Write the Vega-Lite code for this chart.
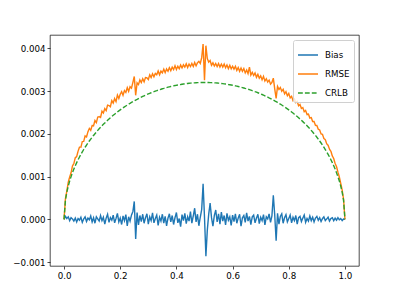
{
"$schema": "https://vega.github.io/schema/vega-lite/v6.json",
"width": 309, "height": 231,
"autosize": {"type": "none"},
"padding": {"left": 50, "top": 35, "right": 40, "bottom": 33},
"background": "white",
"config": {
  "view": {"stroke": "#000", "strokeWidth": 0.7},
  "font": "DejaVu Sans",
  "axis": {"domain": false, "grid": false, "tickColor": "#000", "tickSize": 3, "tickWidth": 0.7, "labelColor": "#000", "labelFontSize": 8.7, "labelFont": "DejaVu Sans", "labelPadding": 2},
  "legend": {"orient": "top-right", "offset": 5, "symbolType": "stroke", "symbolSize": 400, "symbolStrokeWidth": 1.4, "labelFontSize": 8.7, "labelFont": "DejaVu Sans", "labelColor": "#000", "padding": 4, "rowPadding": 3, "strokeColor": "#d0d0d0", "fillColor": "rgba(255,255,255,0.8)", "cornerRadius": 2, "labelOffset": 6}
},
"data": {"values": [
{"x":0,"Bias":0,"RMSE":0,"CRLB":0},
{"x":0.005,"Bias":0.00007,"RMSE":0.000484,"CRLB":0.000451},
{"x":0.01,"Bias":0.00002,"RMSE":0.000667,"CRLB":0.000637},
{"x":0.015,"Bias":0.00006,"RMSE":0.000868,"CRLB":0.000778},
{"x":0.02,"Bias":-0.00003,"RMSE":0.000991,"CRLB":0.000896},
{"x":0.025,"Bias":0.00004,"RMSE":0.001089,"CRLB":0.000999},
{"x":0.03,"Bias":0.00001,"RMSE":0.001248,"CRLB":0.001092},
{"x":0.035,"Bias":-0.00004,"RMSE":0.001307,"CRLB":0.001176},
{"x":0.04,"Bias":0.00003,"RMSE":0.001441,"CRLB":0.001254},
{"x":0.045,"Bias":-0.00006,"RMSE":0.001468,"CRLB":0.001327},
{"x":0.05,"Bias":0.00002,"RMSE":0.001596,"CRLB":0.001395},
{"x":0.055,"Bias":-0.00002,"RMSE":0.001689,"CRLB":0.001459},
{"x":0.06,"Bias":0.00005,"RMSE":0.001688,"CRLB":0.00152},
{"x":0.065,"Bias":-0.00007,"RMSE":0.001818,"CRLB":0.001578},
{"x":0.07,"Bias":0.00001,"RMSE":0.001825,"CRLB":0.001633},
{"x":0.075,"Bias":0.00006,"RMSE":0.00195,"CRLB":0.001686},
{"x":0.08,"Bias":-0.00005,"RMSE":0.001927,"CRLB":0.001736},
{"x":0.085,"Bias":0.00003,"RMSE":0.002047,"CRLB":0.001785},
{"x":0.09,"Bias":-0.00001,"RMSE":0.002125,"CRLB":0.001832},
{"x":0.095,"Bias":0.00008,"RMSE":0.002081,"CRLB":0.001877},
{"x":0.1,"Bias":-0.00006,"RMSE":0.002195,"CRLB":0.00192},
{"x":0.105,"Bias":0.00004,"RMSE":0.002187,"CRLB":0.001962},
{"x":0.11,"Bias":-0.00009,"RMSE":0.002312,"CRLB":0.002002},
{"x":0.115,"Bias":0.00006,"RMSE":0.002262,"CRLB":0.002042},
{"x":0.12,"Bias":0.00001,"RMSE":0.00239,"CRLB":0.00208},
{"x":0.125,"Bias":-0.00004,"RMSE":0.002402,"CRLB":0.002117},
{"x":0.13,"Bias":0.00009,"RMSE":0.002382,"CRLB":0.002152},
{"x":0.135,"Bias":-0.00003,"RMSE":0.002531,"CRLB":0.002187},
{"x":0.14,"Bias":0.00005,"RMSE":0.002485,"CRLB":0.002221},
{"x":0.145,"Bias":-0.00011,"RMSE":0.002591,"CRLB":0.002253},
{"x":0.15,"Bias":0.00003,"RMSE":0.002542,"CRLB":0.002285},
{"x":0.155,"Bias":0.00012,"RMSE":0.002672,"CRLB":0.002316},
{"x":0.16,"Bias":-0.00007,"RMSE":0.002661,"CRLB":0.002346},
{"x":0.165,"Bias":0.00004,"RMSE":0.002635,"CRLB":0.002376},
{"x":0.17,"Bias":-0.00002,"RMSE":0.002777,"CRLB":0.002404},
{"x":0.175,"Bias":0.0001,"RMSE":0.002718,"CRLB":0.002432},
{"x":0.18,"Bias":-0.00008,"RMSE":0.002824,"CRLB":0.002459},
{"x":0.185,"Bias":0.00002,"RMSE":0.002753,"CRLB":0.002485},
{"x":0.19,"Bias":0.00014,"RMSE":0.002907,"CRLB":0.002511},
{"x":0.195,"Bias":-0.00006,"RMSE":0.002826,"CRLB":0.002536},
{"x":0.2,"Bias":0.00003,"RMSE":0.002923,"CRLB":0.00256},
{"x":0.205,"Bias":-0.00012,"RMSE":0.002985,"CRLB":0.002584},
{"x":0.21,"Bias":0.00008,"RMSE":0.002901,"CRLB":0.002607},
{"x":0.215,"Bias":-0.00003,"RMSE":0.003011,"CRLB":0.002629},
{"x":0.22,"Bias":0.00011,"RMSE":0.002966,"CRLB":0.002651},
{"x":0.225,"Bias":-0.00015,"RMSE":0.00308,"CRLB":0.002673},
{"x":0.23,"Bias":0.00006,"RMSE":0.002993,"CRLB":0.002693},
{"x":0.235,"Bias":-0.00004,"RMSE":0.003102,"CRLB":0.002714},
{"x":0.24,"Bias":0.0001,"RMSE":0.003068,"CRLB":0.002733},
{"x":0.245,"Bias":0.00018,"RMSE":0.0032,"CRLB":0.002753},
{"x":0.25,"Bias":0.00042,"RMSE":0.00334,"CRLB":0.002771},
{"x":0.255,"Bias":-0.00046,"RMSE":0.0029,"CRLB":0.00279},
{"x":0.26,"Bias":0.00016,"RMSE":0.003192,"CRLB":0.002807},
{"x":0.265,"Bias":-0.00013,"RMSE":0.003152,"CRLB":0.002825},
{"x":0.27,"Bias":0.00009,"RMSE":0.00326,"CRLB":0.002841},
{"x":0.275,"Bias":-0.00005,"RMSE":0.0032,"CRLB":0.002858},
{"x":0.28,"Bias":0.00012,"RMSE":0.003288,"CRLB":0.002874},
{"x":0.285,"Bias":-0.00009,"RMSE":0.003215,"CRLB":0.002889},
{"x":0.29,"Bias":0.00004,"RMSE":0.003317,"CRLB":0.002904},
{"x":0.295,"Bias":0.00013,"RMSE":0.003308,"CRLB":0.002919},
{"x":0.3,"Bias":-0.00011,"RMSE":0.003269,"CRLB":0.002933},
{"x":0.305,"Bias":0.00006,"RMSE":0.00338,"CRLB":0.002947},
{"x":0.31,"Bias":-0.00003,"RMSE":0.003315,"CRLB":0.00296},
{"x":0.315,"Bias":0.00015,"RMSE":0.003404,"CRLB":0.002973},
{"x":0.32,"Bias":-0.00008,"RMSE":0.003333,"CRLB":0.002985},
{"x":0.325,"Bias":0.00002,"RMSE":0.003413,"CRLB":0.002998},
{"x":0.33,"Bias":0.0001,"RMSE":0.00338,"CRLB":0.003009},
{"x":0.335,"Bias":-0.00014,"RMSE":0.003469,"CRLB":0.003021},
{"x":0.34,"Bias":0.00005,"RMSE":0.003381,"CRLB":0.003032},
{"x":0.345,"Bias":-0.00004,"RMSE":0.003467,"CRLB":0.003042},
{"x":0.35,"Bias":0.00012,"RMSE":0.003425,"CRLB":0.003053},
{"x":0.355,"Bias":-0.00009,"RMSE":0.00351,"CRLB":0.003062},
{"x":0.36,"Bias":0.00007,"RMSE":0.003431,"CRLB":0.003072},
{"x":0.365,"Bias":-0.00015,"RMSE":0.003517,"CRLB":0.003081},
{"x":0.37,"Bias":0.00003,"RMSE":0.003462,"CRLB":0.00309},
{"x":0.375,"Bias":0.00013,"RMSE":0.003546,"CRLB":0.003098},
{"x":0.38,"Bias":-0.00006,"RMSE":0.003475,"CRLB":0.003106},
{"x":0.385,"Bias":0.00009,"RMSE":0.003559,"CRLB":0.003114},
{"x":0.39,"Bias":-0.00012,"RMSE":0.003503,"CRLB":0.003122},
{"x":0.395,"Bias":0.00004,"RMSE":0.003591,"CRLB":0.003129},
{"x":0.4,"Bias":0.00016,"RMSE":0.003503,"CRLB":0.003135},
{"x":0.405,"Bias":-0.00008,"RMSE":0.00358,"CRLB":0.003142},
{"x":0.41,"Bias":0.00002,"RMSE":0.003522,"CRLB":0.003148},
{"x":0.415,"Bias":-0.00017,"RMSE":0.003608,"CRLB":0.003153},
{"x":0.42,"Bias":0.00011,"RMSE":0.00354,"CRLB":0.003159},
{"x":0.425,"Bias":-0.00003,"RMSE":0.003615,"CRLB":0.003164},
{"x":0.43,"Bias":0.00014,"RMSE":0.00356,"CRLB":0.003168},
{"x":0.435,"Bias":-0.0001,"RMSE":0.003635,"CRLB":0.003173},
{"x":0.44,"Bias":0.00006,"RMSE":0.00355,"CRLB":0.003177},
{"x":0.445,"Bias":-0.00004,"RMSE":0.00363,"CRLB":0.003181},
{"x":0.45,"Bias":0.00018,"RMSE":0.003573,"CRLB":0.003184},
{"x":0.455,"Bias":-0.00009,"RMSE":0.003646,"CRLB":0.003187},
{"x":0.46,"Bias":0.00008,"RMSE":0.003575,"CRLB":0.00319},
{"x":0.465,"Bias":0.00026,"RMSE":0.003667,"CRLB":0.003192},
{"x":0.47,"Bias":-0.00006,"RMSE":0.003589,"CRLB":0.003194},
{"x":0.475,"Bias":0.00012,"RMSE":0.003661,"CRLB":0.003196},
{"x":0.48,"Bias":-0.00015,"RMSE":0.003693,"CRLB":0.003197},
{"x":0.485,"Bias":0.00005,"RMSE":0.003645,"CRLB":0.003199},
{"x":0.49,"Bias":0.00023,"RMSE":0.00378,"CRLB":0.003199},
{"x":0.495,"Bias":0.00083,"RMSE":0.0041,"CRLB":0.0032},
{"x":0.5,"Bias":0.00005,"RMSE":0.00325,"CRLB":0.0032},
{"x":0.505,"Bias":-0.00086,"RMSE":0.00406,"CRLB":0.0032},
{"x":0.51,"Bias":-0.00025,"RMSE":0.00376,"CRLB":0.003199},
{"x":0.515,"Bias":0.00012,"RMSE":0.003675,"CRLB":0.003199},
{"x":0.52,"Bias":0.00038,"RMSE":0.003713,"CRLB":0.003197},
{"x":0.525,"Bias":0.00004,"RMSE":0.003601,"CRLB":0.003196},
{"x":0.53,"Bias":-0.00016,"RMSE":0.003659,"CRLB":0.003194},
{"x":0.535,"Bias":0.00009,"RMSE":0.003587,"CRLB":0.003192},
{"x":0.54,"Bias":0.00022,"RMSE":0.003645,"CRLB":0.00319},
{"x":0.545,"Bias":-0.00006,"RMSE":0.003571,"CRLB":0.003187},
{"x":0.55,"Bias":0.00013,"RMSE":0.003643,"CRLB":0.003184},
{"x":0.555,"Bias":-0.00011,"RMSE":0.00356,"CRLB":0.003181},
{"x":0.56,"Bias":0.00017,"RMSE":0.00363,"CRLB":0.003177},
{"x":0.565,"Bias":-0.00004,"RMSE":0.00356,"CRLB":0.003173},
{"x":0.57,"Bias":0.00009,"RMSE":0.00363,"CRLB":0.003168},
{"x":0.575,"Bias":-0.00013,"RMSE":0.003545,"CRLB":0.003164},
{"x":0.58,"Bias":0.00014,"RMSE":0.00361,"CRLB":0.003159},
{"x":0.585,"Bias":-0.00002,"RMSE":0.003523,"CRLB":0.003153},
{"x":0.59,"Bias":0.00006,"RMSE":0.003602,"CRLB":0.003148},
{"x":0.595,"Bias":-0.00014,"RMSE":0.00352,"CRLB":0.003142},
{"x":0.6,"Bias":0.0001,"RMSE":0.003578,"CRLB":0.003135},
{"x":0.605,"Bias":-0.00005,"RMSE":0.003511,"CRLB":0.003129},
{"x":0.61,"Bias":0.00013,"RMSE":0.003578,"CRLB":0.003122},
{"x":0.615,"Bias":-0.00009,"RMSE":0.003484,"CRLB":0.003114},
{"x":0.62,"Bias":0.00003,"RMSE":0.00355,"CRLB":0.003106},
{"x":0.625,"Bias":0.00012,"RMSE":0.003461,"CRLB":0.003098},
{"x":0.63,"Bias":-0.00016,"RMSE":0.003537,"CRLB":0.00309},
{"x":0.635,"Bias":0.00004,"RMSE":0.003462,"CRLB":0.003081},
{"x":0.64,"Bias":0.00009,"RMSE":0.003526,"CRLB":0.003072},
{"x":0.645,"Bias":-0.00007,"RMSE":0.003425,"CRLB":0.003062},
{"x":0.65,"Bias":0.00015,"RMSE":0.00349,"CRLB":0.003053},
{"x":0.655,"Bias":-0.00004,"RMSE":0.003407,"CRLB":0.003042},
{"x":0.66,"Bias":0.00007,"RMSE":0.00356,"CRLB":0.003032},
{"x":0.665,"Bias":-0.00012,"RMSE":0.003374,"CRLB":0.003021},
{"x":0.67,"Bias":0.00006,"RMSE":0.003435,"CRLB":0.003009},
{"x":0.675,"Bias":0.0001,"RMSE":0.003363,"CRLB":0.002998},
{"x":0.68,"Bias":-0.00008,"RMSE":0.003423,"CRLB":0.002985},
{"x":0.685,"Bias":0.00003,"RMSE":0.003319,"CRLB":0.002973},
{"x":0.69,"Bias":0.00012,"RMSE":0.00339,"CRLB":0.00296},
{"x":0.695,"Bias":-0.0001,"RMSE":0.0033,"CRLB":0.002947},
{"x":0.7,"Bias":0.00005,"RMSE":0.003354,"CRLB":0.002933},
{"x":0.705,"Bias":-0.00003,"RMSE":0.003263,"CRLB":0.002919},
{"x":0.71,"Bias":0.00011,"RMSE":0.003342,"CRLB":0.002904},
{"x":0.715,"Bias":-0.00013,"RMSE":0.003235,"CRLB":0.002889},
{"x":0.72,"Bias":0.00006,"RMSE":0.003288,"CRLB":0.002874},
{"x":0.725,"Bias":0.00001,"RMSE":0.00321,"CRLB":0.002858},
{"x":0.73,"Bias":0.00013,"RMSE":0.003255,"CRLB":0.002841},
{"x":0.735,"Bias":-0.00007,"RMSE":0.003162,"CRLB":0.002825},
{"x":0.74,"Bias":0.00008,"RMSE":0.003202,"CRLB":0.002807},
{"x":0.745,"Bias":0.00056,"RMSE":0.0033,"CRLB":0.00279},
{"x":0.75,"Bias":0.0001,"RMSE":0.00305,"CRLB":0.002771},
{"x":0.755,"Bias":-0.0005,"RMSE":0.00283,"CRLB":0.002753},
{"x":0.76,"Bias":0.00014,"RMSE":0.003108,"CRLB":0.002733},
{"x":0.765,"Bias":-0.00011,"RMSE":0.003037,"CRLB":0.002714},
{"x":0.77,"Bias":0.00007,"RMSE":0.003083,"CRLB":0.002693},
{"x":0.775,"Bias":0.00013,"RMSE":0.002995,"CRLB":0.002673},
{"x":0.78,"Bias":-0.00009,"RMSE":0.003041,"CRLB":0.002651},
{"x":0.785,"Bias":0.00004,"RMSE":0.002936,"CRLB":0.002629},
{"x":0.79,"Bias":0.00011,"RMSE":0.002986,"CRLB":0.002607},
{"x":0.795,"Bias":-0.00006,"RMSE":0.00289,"CRLB":0.002584},
{"x":0.8,"Bias":0.00002,"RMSE":0.002943,"CRLB":0.00256},
{"x":0.805,"Bias":0.0001,"RMSE":0.002841,"CRLB":0.002536},
{"x":0.81,"Bias":-0.00008,"RMSE":0.002877,"CRLB":0.002511},
{"x":0.815,"Bias":0.00005,"RMSE":0.002778,"CRLB":0.002485},
{"x":0.82,"Bias":-0.00003,"RMSE":0.002814,"CRLB":0.002459},
{"x":0.825,"Bias":0.00009,"RMSE":0.002728,"CRLB":0.002432},
{"x":0.83,"Bias":-0.00011,"RMSE":0.002757,"CRLB":0.002404},
{"x":0.835,"Bias":0.00004,"RMSE":0.002655,"CRLB":0.002376},
{"x":0.84,"Bias":0.00007,"RMSE":0.002686,"CRLB":0.002346},
{"x":0.845,"Bias":-0.00005,"RMSE":0.002592,"CRLB":0.002316},
{"x":0.85,"Bias":0.00003,"RMSE":0.002612,"CRLB":0.002285},
{"x":0.855,"Bias":0.0001,"RMSE":0.002516,"CRLB":0.002253},
{"x":0.86,"Bias":-0.00007,"RMSE":0.002545,"CRLB":0.002221},
{"x":0.865,"Bias":0.00002,"RMSE":0.002451,"CRLB":0.002187},
{"x":0.87,"Bias":-0.00004,"RMSE":0.002462,"CRLB":0.002152},
{"x":0.875,"Bias":0.00008,"RMSE":0.002367,"CRLB":0.002117},
{"x":0.88,"Bias":-0.00003,"RMSE":0.00238,"CRLB":0.00208},
{"x":0.885,"Bias":0.00005,"RMSE":0.002287,"CRLB":0.002042},
{"x":0.89,"Bias":-0.00006,"RMSE":0.002287,"CRLB":0.002002},
{"x":0.895,"Bias":0.00003,"RMSE":0.002197,"CRLB":0.001962},
{"x":0.9,"Bias":0.00007,"RMSE":0.002195,"CRLB":0.00192},
{"x":0.905,"Bias":-0.00002,"RMSE":0.002106,"CRLB":0.001877},
{"x":0.91,"Bias":0.00004,"RMSE":0.00209,"CRLB":0.001832},
{"x":0.915,"Bias":-0.00005,"RMSE":0.001997,"CRLB":0.001785},
{"x":0.92,"Bias":0.00002,"RMSE":0.001987,"CRLB":0.001736},
{"x":0.925,"Bias":0.00006,"RMSE":0.00189,"CRLB":0.001686},
{"x":0.93,"Bias":-0.00003,"RMSE":0.001865,"CRLB":0.001633},
{"x":0.935,"Bias":0.00001,"RMSE":0.001768,"CRLB":0.001578},
{"x":0.94,"Bias":0.00005,"RMSE":0.001733,"CRLB":0.00152},
{"x":0.945,"Bias":-0.00004,"RMSE":0.001639,"CRLB":0.001459},
{"x":0.95,"Bias":0.00002,"RMSE":0.001591,"CRLB":0.001395},
{"x":0.955,"Bias":0.00004,"RMSE":0.001483,"CRLB":0.001327},
{"x":0.96,"Bias":-0.00003,"RMSE":0.001421,"CRLB":0.001254},
{"x":0.965,"Bias":0.00003,"RMSE":0.001307,"CRLB":0.001176},
{"x":0.97,"Bias":-0.00002,"RMSE":0.001233,"CRLB":0.001092},
{"x":0.975,"Bias":0.00004,"RMSE":0.001104,"CRLB":0.000999},
{"x":0.98,"Bias":-0.00001,"RMSE":0.000991,"CRLB":0.000896},
{"x":0.985,"Bias":0.00002,"RMSE":0.000843,"CRLB":0.000778},
{"x":0.99,"Bias":-0.00003,"RMSE":0.000687,"CRLB":0.000637},
{"x":0.995,"Bias":0.00001,"RMSE":0.000474,"CRLB":0.000451},
{"x":1,"Bias":0,"RMSE":0,"CRLB":0}
]},
"transform": [{"fold": ["Bias", "RMSE", "CRLB"], "as": ["series", "value"]}],
"mark": {"type": "line", "strokeWidth": 1.4, "clip": true},
"encoding": {
  "x": {"field": "x", "type": "quantitative", "title": null, "scale": {"domain": [-0.05, 1.05], "nice": false, "zero": false}, "axis": {"values": [0, 0.2, 0.4, 0.6, 0.8, 1], "format": ".1f", "labelFlush": false}},
  "y": {"field": "value", "type": "quantitative", "title": null, "scale": {"domain": [-0.00109, 0.00431], "nice": false, "zero": false}, "axis": {"values": [-0.001, 0, 0.001, 0.002, 0.003, 0.004], "format": ".3f", "labelFlush": false}},
  "color": {"field": "series", "type": "nominal", "title": null, "scale": {"domain": ["Bias", "RMSE", "CRLB"], "range": ["#1f77b4", "#ff7f0e", "#2ca02c"]}},
  "strokeDash": {"field": "series", "type": "nominal", "title": null, "scale": {"domain": ["Bias", "RMSE", "CRLB"], "range": [[1, 0], [1, 0], [4.8, 2.1]]}}
}
}
